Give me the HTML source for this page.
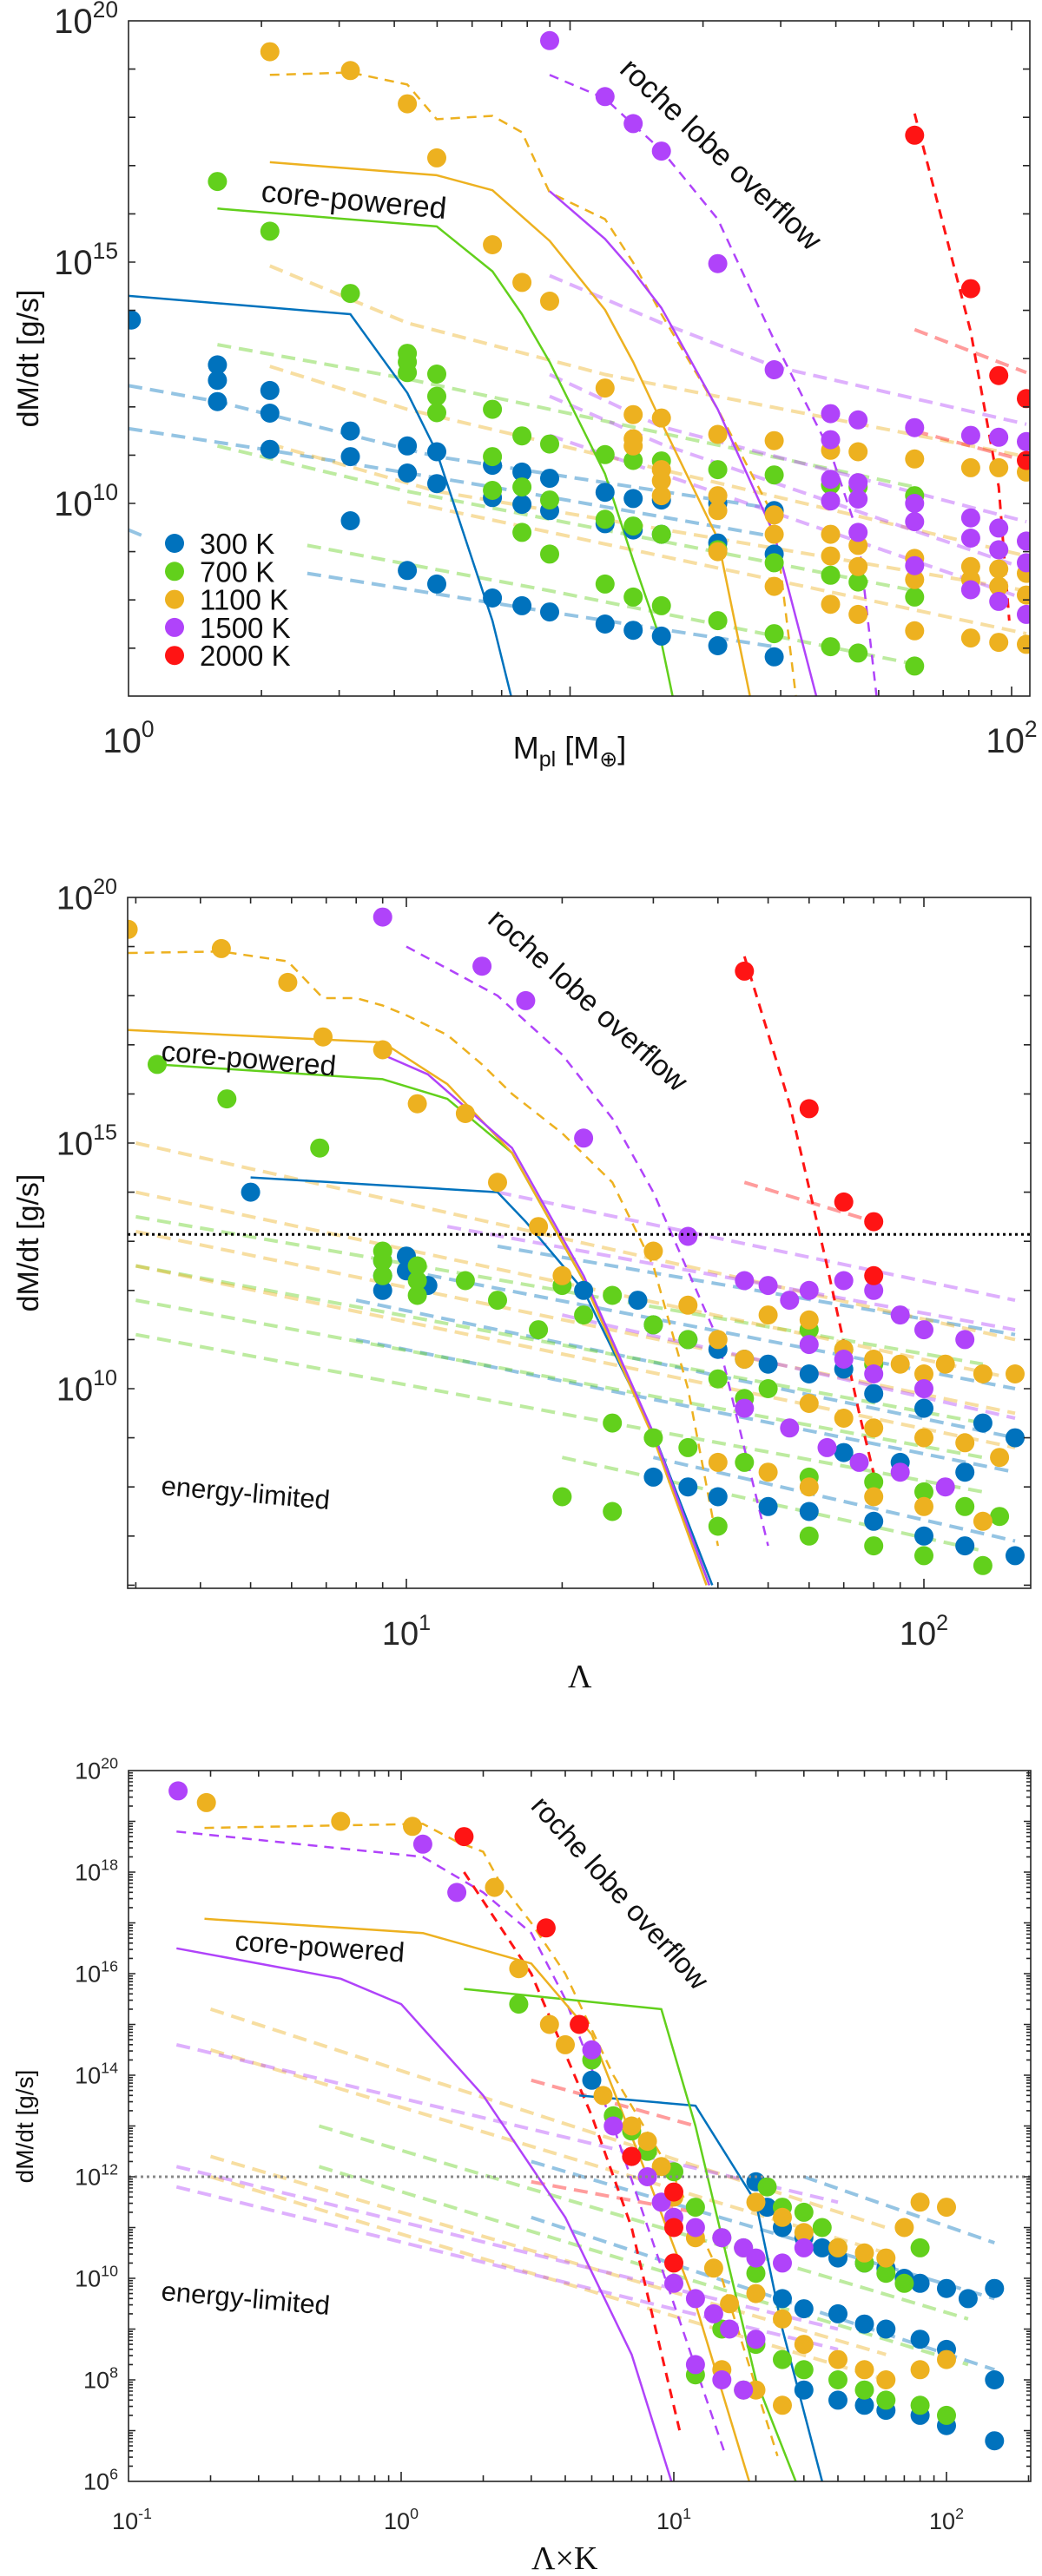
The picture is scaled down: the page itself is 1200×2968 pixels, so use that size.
<!DOCTYPE html>
<html><head><meta charset="utf-8"><style>
html,body{margin:0;padding:0;background:#fff}
svg{display:block;font-family:"Liberation Sans",sans-serif}
</style></head><body>
<svg id="fig" width="1200" height="2968" viewBox="0 0 1200 2968" xmlns="http://www.w3.org/2000/svg"></svg>
<script>
// ===== Panel 1 data (x = M_pl [M_earth], y = log10 dM/dt) =====
const p1Blue=[[1.015,13.8],[1.59,12.87],[1.59,12.55],[1.59,12.11],[2.09,12.34],[2.09,11.87],[2.09,11.12],[3.18,11.5],[3.18,10.97],[3.18,9.64],[4.28,11.19],[4.28,10.63],[4.28,8.61],[4.99,11.07],[4.99,10.41],[4.99,8.33],[6.67,10.79],[6.67,10.12],[6.67,8.04],[7.78,10.65],[7.78,9.98],[7.78,7.88],[8.99,10.52],[8.99,9.85],[8.99,7.75],[12,10.23],[12,9.58],[12,7.5],[13.9,10.1],[13.9,9.45],[13.9,7.37],[16.1,10.07],[16.1,9.36],[16.1,7.25],[21.6,10.0],[21.6,9.18],[21.6,7.05],[29,9.85],[29,8.95],[29,6.82]];
const p1Green=[[1.59,16.67],[2.09,15.64],[3.18,14.35],[4.28,13.11],[4.28,12.93],[4.28,12.71],[4.99,12.68],[4.99,12.22],[4.99,11.88],[6.67,11.95],[6.67,10.97],[6.67,10.27],[7.78,11.4],[7.78,10.34],[7.78,9.4],[8.99,11.23],[8.99,10.07],[8.99,8.95],[12,11.01],[12,9.67],[12,8.33],[13.9,10.89],[13.9,9.53],[13.9,8.06],[16.1,10.88],[16.1,9.36],[16.1,7.88],[21.6,10.7],[21.6,9.04],[21.6,7.57],[29,10.59],[29,8.77],[29,7.3],[38.9,10.38],[38.9,8.51],[38.9,7.03],[44.9,10.34],[44.9,8.37],[44.9,6.9],[60.3,10.16],[60.3,8.06],[60.3,6.63]];
const p1Orange=[[2.09,19.36],[3.18,18.97],[4.28,18.28],[4.99,17.16],[6.67,15.36],[7.78,14.58],[8.99,14.19],[12,12.39],[13.9,11.84],[13.9,11.34],[13.9,11.19],[16.1,11.77],[16.1,10.7],[16.1,10.47],[16.1,10.16],[21.6,11.43],[21.6,10.16],[21.6,9.85],[21.6,9.0],[29,11.3],[29,9.76],[29,9.36],[29,8.28],[38.9,11.1],[38.9,9.36],[38.9,8.91],[38.9,7.91],[44.9,11.07],[44.9,9.13],[44.9,8.69],[44.9,7.7],[60.3,10.92],[60.3,8.86],[60.3,8.42],[60.3,7.36],[80.8,10.74],[80.8,8.69],[80.8,8.42],[80.8,7.21],[93.5,10.74],[93.5,8.64],[93.5,8.28],[93.5,7.12],[108,10.65],[108,8.55],[108,8.1],[108,7.08]];
const p1Purple=[[8.99,19.59],[12,18.43],[13.9,17.87],[16.1,17.3],[21.6,14.97],[29,12.77],[38.9,11.86],[38.9,11.32],[38.9,10.5],[38.9,10.05],[44.9,11.73],[44.9,10.43],[44.9,10.09],[44.9,9.4],[60.3,11.57],[60.3,10.0],[60.3,9.62],[60.3,8.71],[80.8,11.41],[80.8,9.7],[80.8,9.28],[80.8,8.21],[93.5,11.37],[93.5,9.49],[93.5,9.04],[93.5,7.97],[108,11.28],[108,9.22],[108,8.77],[108,7.7]];
const p1Red=[[60.3,17.63],[80.8,14.45],[93.5,12.65],[108,12.17],[108,10.89]];
const p1RocheOrange=[[2.09,18.88],[3.18,18.93],[4.28,18.68],[4.99,17.96],[6.67,18.03],[7.78,17.69],[8.99,16.44],[12,15.89],[13.9,14.99],[16.1,13.92],[21.6,11.95],[29,9.71],[32.5,5.97]];
const p1RochePurple=[[8.99,18.88],[12,18.39],[13.9,17.85],[16.1,17.32],[21.6,15.89],[29,13.38],[38.9,11.06],[44.9,9.36],[49.5,5.97]];
const p1RocheRed=[[60.3,18.08],[80.8,13.56],[93.5,10.34],[98.8,7.57]];
const p1CoreOrange=[[2.09,17.07],[4.99,16.8],[6.67,16.49],[8.99,15.44],[12,14.01],[13.9,12.93],[16.1,11.68],[21.6,9.27],[25.6,5.97]];
const p1CoreGreen=[[1.59,16.11],[4.99,15.74],[6.67,14.81],[7.78,13.92],[8.99,12.93],[12,10.61],[13.9,8.82],[16.1,7.12],[17.1,5.97]];
const p1CoreBlue=[[1,14.3],[3.18,13.92],[4.28,12.29],[4.99,11.06],[6.67,7.57],[7.37,5.97]];
const p1CorePurple=[[8.99,16.47],[12,15.48],[13.9,14.81],[16.1,14.05],[21.6,11.95],[29,9.36],[36.2,5.97]];
const p1PaleBlue=[[[1,12.44],[1.59,12.11],[4.99,10.97],[29,9.89]],[[1,11.55],[2.09,11.1],[6.67,10.34],[29,9.31]],[[1,9.45],[1.09,9.31]],[[2.54,8.55],[8.99,7.75],[29,7.03]]];
const p1PaleGreen=[[[1.59,13.29],[4.28,12.58],[60.3,10.34]],[[1.59,11.19],[4.28,10.25],[60.3,8.19]],[[2.54,9.13],[8.99,8.19],[60.3,6.67]]];
const p1PaleOrange=[[[2.09,14.92],[4.28,13.74],[12,12.67],[108,10.97]],[[2.09,12.84],[4.28,11.95],[108,8.91]],[[2.09,11.23],[4.99,10.25],[108,8.19]],[[4.28,10.03],[108,7.3]]];
const p1PalePurple=[[[8.99,14.72],[16.1,13.74],[29,12.84],[108,11.64]],[[8.99,12.67],[16.1,11.59],[108,9.62]],[[8.99,12.22],[16.1,11.23],[108,8.64]],[[8.99,11.41],[108,8.01]]];
const p1PaleRed=[[[60.3,13.6],[108,12.71]],[[60.3,11.5],[108,10.88]]];

// ===== Panel 2 data (x = Lambda) =====
const p2Blue=[[5,14.0],[9,12.6],[9,12.3],[9,12.0],[10,12.7],[10,12.4],[11,12.1],[22,12.0],[28,11.8],[30,11.3],[35,11.0],[40,10.8],[45,10.6],[50,10.5],[60,10.3],[70,10.4],[80,9.9],[100,9.6],[130,9.3],[150,9.0],[30,8.2],[35,8.0],[40,7.8],[50,7.6],[60,7.5],[80,7.3],[100,7.0],[120,6.8],[150,6.6],[70,8.7],[90,8.5],[120,8.3]];
const p2Green=[[3.3,16.6],[4.5,15.9],[6.8,14.9],[9,12.8],[9,12.6],[9,12.3],[10.5,12.5],[10.5,12.2],[10.5,11.9],[13,12.2],[15,11.8],[18,11.2],[20,12.1],[22,11.5],[25,11.9],[30,11.3],[35,11.0],[40,10.2],[45,9.8],[50,10.0],[60,11.2],[70,10.8],[80,10.5],[25,9.3],[30,9.0],[35,8.8],[45,8.5],[60,8.2],[80,8.1],[100,7.9],[120,7.6],[140,7.4],[40,7.2],[60,7.0],[80,6.8],[100,6.6],[130,6.4],[20,7.8],[25,7.5]];
const p2Orange=[[2.9,19.35],[4.39,18.96],[5.9,18.27],[6.9,17.16],[9,16.9],[10.5,15.8],[13,15.6],[15,14.2],[18,13.3],[20,12.3],[30,12.8],[35,11.7],[40,11.0],[45,10.6],[50,11.5],[60,11.4],[70,10.8],[80,10.6],[90,10.5],[100,10.3],[110,10.5],[130,10.3],[150,10.3],[60,9.7],[70,9.4],[80,9.2],[100,9.0],[120,8.9],[140,8.6],[40,8.5],[50,8.3],[60,8.0],[80,7.8],[100,7.6],[130,7.3]];
const p2Purple=[[9,19.6],[14,18.6],[17,17.9],[22,15.1],[35,13.1],[45,12.2],[50,12.1],[55,11.8],[60,12.0],[70,12.2],[80,12.0],[90,11.5],[100,11.2],[120,11.0],[60,10.9],[70,10.6],[80,10.3],[100,10.0],[45,9.6],[55,9.2],[65,8.8],[75,8.5],[90,8.3],[110,8.0]];
const p2Red=[[45,18.5],[60,15.7],[70,13.8],[80,13.4],[80,12.3]];
const p2RocheOrange=[[2.9,18.87],[4.39,18.9],[5.9,18.7],[6.9,17.95],[8,17.95],[9,17.8],[10,17.6],[12,17.2],[14,16.6],[16,16.0],[20,15.2],[25,14.2],[30,12.5],[35,10],[40,6.8]];
const p2RochePurple=[[10,19.0],[15,18.0],[20,16.8],[25,15.5],[30,14],[40,11],[50,6.8]];
const p2RocheRed=[[45,18.8],[55,15.8],[65,12.5],[75,9.5],[82,7.8]];
const p2CoreOrange=[[2.9,17.3],[9,17.05],[12,16.2],[16,14.8],[22,12.2],[30,9],[38,6]];
const p2CoreGreen=[[3.3,16.6],[9,16.3],[12,15.9],[16,14.8],[22,12.2],[30,9.05],[38.5,6]];
const p2CorePurple=[[9,16.8],[11,16.4],[16,14.9],[22,12.3],[30,9.1],[38.5,6]];
const p2CoreBlue=[[5,14.3],[15,14.0],[17,13.4],[22,12.0],[30,9.1],[39,6]];
const p2PaleBlue=[[[15,12.9],[150,11.1]],[[10,12.4],[150,10.0]],[[8,11.8],[150,9.0]],[[8,11.0],[150,8.3]],[[30,8.6],[150,6.9]]];
const p2PaleGreen=[[[3,13.5],[130,10.5]],[[3,12.5],[130,9.3]],[[3,11.8],[130,8.6]],[[3,11.1],[130,7.9]],[[20,8.6],[130,6.7]]];
const p2PaleOrange=[[[3,15.0],[150,11.0]],[[3,14.0],[150,10.2]],[[3,13.2],[150,9.5]],[[3,12.5],[150,8.8]]];
const p2PalePurple=[[[15,14.0],[150,11.8]],[[12,13.3],[150,11.2]],[[20,11.5],[150,9.4]]];
const p2PaleRed=[[[45,14.2],[80,13.4]]];
const p2Threshold=[13.14];

// ===== Panel 3 data (x = Lambda*K) =====
const p3Blue=[[5,13.9],[20,11.9],[22,11.4],[25,11.0],[30,10.8],[35,10.6],[40,10.4],[50,10.3],[60,10.2],[70,10.0],[80,9.9],[100,9.8],[120,9.6],[150,9.8],[25,9.6],[30,9.4],[40,9.3],[50,9.1],[60,9.0],[80,8.8],[100,8.6],[150,8.0],[40,7.6],[50,7.5],[60,7.4],[80,7.3],[100,7.1],[150,6.8],[30,7.8]];
const p3Green=[[2.7,15.4],[5,14.3],[6,13.2],[7,12.9],[8,12.5],[10,12.1],[12,11.4],[15,10.8],[18,10.6],[20,10.1],[22,11.8],[25,11.4],[30,11.3],[35,11.0],[40,10.6],[50,10.3],[60,10.1],[70,9.9],[80,10.6],[15,9.0],[20,8.7],[25,8.4],[30,8.2],[40,8.0],[50,7.8],[60,7.6],[80,7.5],[100,7.3],[12,8.1],[18,7.8]];
const p3Orange=[[0.193,19.37],[0.6,19.0],[1.1,18.9],[2.2,17.7],[2.7,16.1],[3.5,15.0],[4,14.6],[5.5,13.6],[7,13],[8,12.7],[9,12.2],[10,11.6],[12,10.8],[14,10.2],[16,9.5],[20,11.5],[25,11.2],[30,10.9],[40,10.6],[50,10.5],[60,10.4],[70,11.0],[80,11.5],[100,11.4],[20,9.7],[25,9.2],[30,8.7],[40,8.4],[50,8.2],[60,8.0],[80,8.2],[100,8.4],[20,7.8],[25,7.5],[15,8.2]];
const p3Purple=[[0.152,19.6],[1.2,18.55],[1.6,17.6],[5,14.5],[6,13],[7,12.4],[8,12.0],[9,11.5],[10,11.2],[12,11.0],[15,10.8],[18,10.6],[20,10.4],[25,10.3],[30,10.6],[10,9.9],[12,9.6],[14,9.3],[16,9.0],[20,8.8],[12,8.3],[15,8.0],[18,7.8]];
const p3Red=[[1.7,18.7],[3.4,16.9],[4.5,15.0],[7,12.4],[10,11.7],[10,11.0],[10,10.3]];
const p3RocheOrange=[[0.19,18.87],[1.2,18.95],[1.6,18.6],[2,18.4],[2.3,17.8],[3,17],[4,16],[6,14],[10,12],[15,10],[24,6.5]];
const p3RochePurple=[[0.15,18.8],[1.2,18.3],[2,17.6],[3,16.8],[4,15.5],[6,13],[10,9.5],[15.5,6.5]];
const p3RocheRed=[[1.7,18.0],[3,16],[5,13.2],[7,11],[10.5,7]];
const p3CorePurple=[[0.15,16.5],[0.6,15.9],[1,15.4],[2,13.6],[4,11.2],[7,8.5],[9.8,6]];
const p3CoreOrange=[[0.19,17.08],[1.2,16.8],[3,16.2],[5,14.8],[8,12],[12,9.5],[18.9,6]];
const p3CoreGreen=[[1.7,15.7],[9,15.3],[12,13],[20,8],[28,6]];
const p3CoreBlue=[[4.5,13.6],[12,13.4],[20,11.5],[25,9],[35,6]];
const p3PaleOrange=[[[0.2,15.3],[60,11.0]],[[0.2,14.5],[60,10.5]],[[0.2,12.4],[60,8.5]],[[0.2,12.0],[60,8.0]]];
const p3PalePurple=[[[0.15,14.6],[40,11.5]],[[0.15,12.2],[40,9.0]],[[0.15,11.8],[40,8.6]]];
const p3PaleGreen=[[[0.5,13.0],[120,9.2]],[[0.5,12.2],[120,8.3]]];
const p3PaleBlue=[[[3,12.3],[150,9.6]],[[3,11.2],[150,8.2]],[[30,12.0],[150,10.7]]];
const p3PaleRed=[[[3,13.9],[12,13.0]],[[3,11.9],[12,11.3]]];
const p3Threshold=[12];

const COL={blue:"#0072BD",green:"#62D01C",orange:"#EDB120",purple:"#B043FA",red:"#FF1414"};
const NS="http://www.w3.org/2000/svg";
const svg=document.getElementById("fig");
function mk(tag,attrs,parent){const e=document.createElementNS(NS,tag);for(const k in attrs)e.setAttribute(k,attrs[k]);(parent||svg).appendChild(e);return e;}

function makePanel(cfg){
  const X=v=>cfg.left+(Math.log10(v)-cfg.xmin)*cfg.xd;
  const Y=l=>cfg.top+(cfg.ymax-l)*cfg.yd;
  const g=mk("g",{});
  
  
  const cp=mk("clipPath",{id:cfg.name+"-clip"},g);
  mk("rect",{x:cfg.left,y:cfg.top,width:cfg.right-cfg.left,height:cfg.bottom-cfg.top},cp);
  const plot=mk("g",{"clip-path":"url(#"+cfg.name+"-clip)"},g);
  
  
  return {X,Y,g,plot,cfg};
}
function poly(P,pts,color,opts,name){
  const d=pts.map((p,i)=>(i?"L":"M")+P.X(p[0]).toFixed(1)+" "+P.Y(p[1]).toFixed(1)).join(" ");
  const e=mk("path",{d:d,fill:"none",stroke:color,"stroke-width":opts.w||2.5,"stroke-dasharray":opts.dash||"none",opacity:opts.op||1,"stroke-linecap":"butt","stroke-linejoin":"round"},P.plot);
  
  
}
function dots(P,pts,color,name){
  pts.forEach(p=>{
    const c=mk("circle",{cx:P.X(p[0]).toFixed(1),cy:P.Y(p[1]).toFixed(1),r:11,fill:color},P.plot);
    
    
  });
}
function pales(P,lines,color,name){lines.forEach(l=>poly(P,l,color,{w:4,dash:"16 9",op:0.42},name));}
function hline(P,lv,color,dash,name){
  const e=mk("line",{x1:P.cfg.left,x2:P.cfg.right,y1:P.Y(lv),y2:P.Y(lv),stroke:color,"stroke-width":3,"stroke-dasharray":dash},P.plot);
  
  
}
function supText(x,y,base,exp,fs,fe,anchor,name){
  const t=mk("text",{x:x,y:y,"font-size":fs,fill:"#262626","text-anchor":anchor});
  
  
  const a=mk("tspan",{},t);a.textContent=base;
  const b=mk("tspan",{"font-size":fe,dy:-fs*0.45},t);b.textContent=exp;
  return t;
}
function axes(P,o){
  const c=P.cfg,g=P.g;
  const fr=mk("rect",{x:c.left,y:c.top,width:c.right-c.left,height:c.bottom-c.top,fill:"none",stroke:"#262626","stroke-width":1.6},g);
  
  
  let d="";
  const lo=Math.floor(c.xmin),hi=Math.ceil(c.xmin+(c.right-c.left)/c.xd);
  for(let n=lo;n<=hi;n++)for(let k=1;k<10;k++){
    const v=k*Math.pow(10,n);const x=P.X(v);
    if(x<c.left+0.5||x>c.right-0.5)continue;
    const L=k===1?11:7;
    d+=`M${x.toFixed(1)} ${c.bottom}v${-L}M${x.toFixed(1)} ${c.top}v${L}`;
  }
  for(let l=Math.ceil(c.ymin);l<=c.ymax;l++){
    for(let k=1;k<10;k++){
      if(k>1&&!o.yminor)continue;
      const y=P.Y(l+Math.log10(k));
      if(y<c.top+0.5||y>c.bottom-0.5)continue;
      const L=k===1?8:5;
      d+=`M${c.left} ${y.toFixed(1)}h${L}M${c.right} ${y.toFixed(1)}h${-L}`;
    }
  }
  const t=mk("path",{d:d,stroke:"#262626","stroke-width":1.6,fill:"none"},g);
  
  
  o.ylabels.forEach(l=>supText(c.left-12,P.Y(l)+o.fs*0.35,"10",String(l),o.fs,o.fs*0.66,"end","y-tick-label"));
  o.xlabels.forEach(l=>supText(P.X(Math.pow(10,l))+(l<0?4:0),o.xly,"10",String(l),o.fs,o.fs*0.66,"middle","x-tick-label"));
}
function label(txt,x,y,fs,rot,name,family){
  const t=mk("text",{x:x,y:y,"font-size":fs,fill:"#111",transform:`rotate(${rot} ${x} ${y})`,"font-family":family||"Liberation Sans, sans-serif"});
  t.textContent=txt;
  
  
  return t;
}
function drawAll(P,d){
  pales(P,d.pb,COL.blue,"energy-limited-300K");
  pales(P,d.pg,COL.green,"energy-limited-700K");
  pales(P,d.po,COL.orange,"energy-limited-1100K");
  pales(P,d.pp,COL.purple,"energy-limited-1500K");
  pales(P,d.pr,COL.red,"energy-limited-2000K");
  poly(P,d.ro,COL.orange,{dash:"11 8"},"roche-1100K");
  poly(P,d.rp,COL.purple,{dash:"11 8"},"roche-1500K");
  poly(P,d.rr,COL.red,{dash:"11 8",w:3},"roche-2000K");
  poly(P,d.cb,COL.blue,{},"core-powered-300K");
  poly(P,d.cg,COL.green,{},"core-powered-700K");
  poly(P,d.co,COL.orange,{},"core-powered-1100K");
  poly(P,d.cp,COL.purple,{},"core-powered-1500K");
  dots(P,d.db,COL.blue,"point-300K");
  dots(P,d.dg,COL.green,"point-700K");
  dots(P,d.do,COL.orange,"point-1100K");
  dots(P,d.dp,COL.purple,"point-1500K");
  dots(P,d.dr,COL.red,"point-2000K");
}

// Panel 1
const P1=makePanel({name:"panel-mass",left:148,right:1186,top:24,bottom:802,xmin:0,xd:508.5,ymax:20,ymin:6,yd:55.6});
drawAll(P1,{pb:p1PaleBlue,pg:p1PaleGreen,po:p1PaleOrange,pp:p1PalePurple,pr:p1PaleRed,ro:p1RocheOrange,rp:p1RochePurple,rr:p1RocheRed,cb:p1CoreBlue,cg:p1CoreGreen,co:p1CoreOrange,cp:p1CorePurple,db:p1Blue,dg:p1Green,do:p1Orange,dp:p1Purple,dr:p1Red});
axes(P1,{ylabels:[20,15,10],xlabels:[0,2],fs:40,xly:867,yminor:false});
label("core-powered",300,232,35,5.4,"core-powered-label");
label("roche lobe overflow",712,82,35,43.4,"roche-lobe-overflow-label");
label("dM/dt [g/s]",44,413,34,-90,"y-axis-title").setAttribute("text-anchor","middle");
(function(){const t=mk("text",{x:656,y:874,"font-size":36,fill:"#111","text-anchor":"middle"});

const a=mk("tspan",{},t);a.textContent="M";const b=mk("tspan",{"font-size":25,dy:9},t);b.textContent="pl";
const c=mk("tspan",{dy:-9},t);c.textContent=" [M";const e=mk("tspan",{"font-size":25,dy:9},t);e.textContent="⊕";const f=mk("tspan",{dy:-9},t);f.textContent="]";})();
// legend
const legNames=["300 K","700 K","1100 K","1500 K","2000 K"];
const legCols=[COL.blue,COL.green,COL.orange,COL.purple,COL.red];
legNames.forEach((n,i)=>{
  const y=626+i*32.3;
  const c=mk("circle",{cx:201,cy:y,r:11,fill:legCols[i]});
  
  
  const t=mk("text",{x:230,y:y+12,"font-size":33,fill:"#111"});t.textContent=n;
  
  
});

// Panel 2
const P2=makePanel({name:"panel-lambda",left:147,right:1187,top:1034,bottom:1830,xmin:0.4614,xd:596,ymax:20,ymin:6,yd:56.6});
drawAll(P2,{pb:p2PaleBlue,pg:p2PaleGreen,po:p2PaleOrange,pp:p2PalePurple,pr:p2PaleRed,ro:p2RocheOrange,rp:p2RochePurple,rr:p2RocheRed,cb:p2CoreBlue,cg:p2CoreGreen,co:p2CoreOrange,cp:p2CorePurple,db:p2Blue,dg:p2Green,do:p2Orange,dp:p2Purple,dr:p2Red});
p2Threshold.forEach(v=>hline(P2,v,"#000","3 4","threshold-line"));
axes(P2,{ylabels:[20,15,10],xlabels:[1,2],fs:38,xly:1895,yminor:false});
label("core-powered",185,1222,33,5,"core-powered-label");
label("roche lobe overflow",560,1062,34,42,"roche-lobe-overflow-label");
label("energy-limited",185,1722,31,5,"energy-limited-label");
label("dM/dt [g/s]",44,1432,34,-90,"y-axis-title").setAttribute("text-anchor","middle");
label("Λ",654,1944,38,0,"x-axis-title","Liberation Serif, serif");

// Panel 3
const P3=makePanel({name:"panel-lambda-k",left:148,right:1187,top:2040,bottom:2859,xmin:-1,xd:314,ymax:20,ymin:6,yd:58.5});
drawAll(P3,{pb:p3PaleBlue,pg:p3PaleGreen,po:p3PaleOrange,pp:p3PalePurple,pr:p3PaleRed,ro:p3RocheOrange,rp:p3RochePurple,rr:p3RocheRed,cb:p3CoreBlue,cg:p3CoreGreen,co:p3CoreOrange,cp:p3CorePurple,db:p3Blue,dg:p3Green,do:p3Orange,dp:p3Purple,dr:p3Red});
p3Threshold.forEach(v=>hline(P3,v,"#888","3 4","threshold-line"));
axes(P3,{ylabels:[20,18,16,14,12,10,8,6],xlabels:[-1,0,1,2],fs:27,xly:2914,yminor:true});
label("core-powered",270,2247,32,4,"core-powered-label");
label("roche lobe overflow",610,2082,33,48,"roche-lobe-overflow-label");
label("energy-limited",185,2650,31,5,"energy-limited-label");
label("dM/dt [g/s]",38,2450,28,-90,"y-axis-title").setAttribute("text-anchor","middle");
label("Λ×K",612,2960,38,0,"x-axis-title","Liberation Serif, serif");
</script>
</body></html>
